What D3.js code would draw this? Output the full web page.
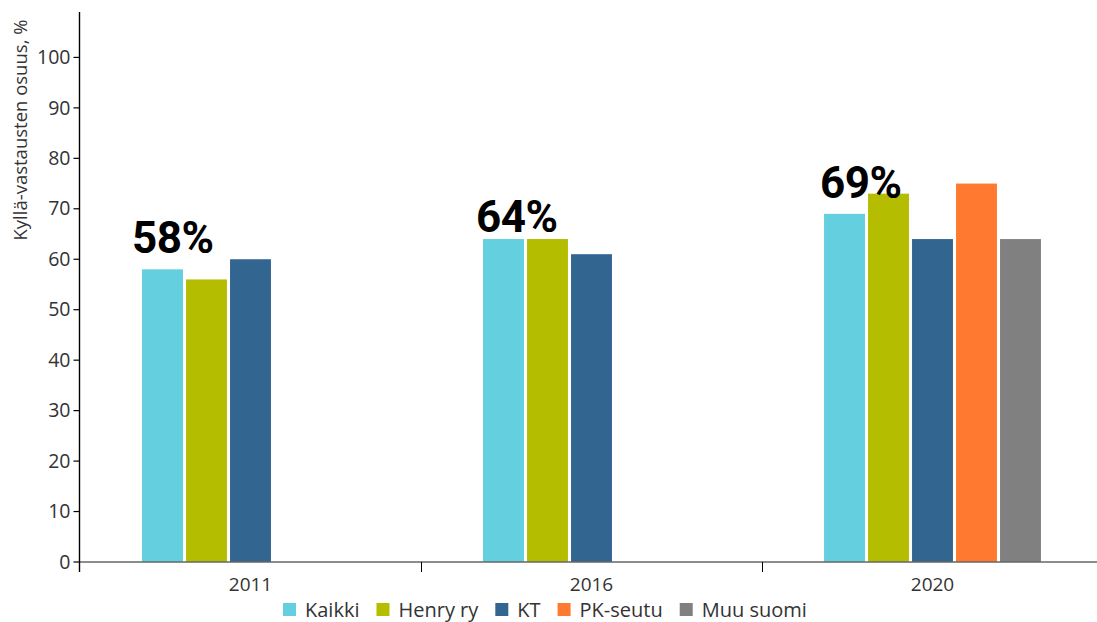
<!DOCTYPE html>
<html>
<head>
<meta charset="utf-8">
<script src="https://cdn.jsdelivr.net/npm/d3@7"></script>
<style>
  html, body { margin: 0; padding: 0; background: #fff; }
  svg { display: block; }
</style>
</head>
<body>
<svg id="chart" width="1097" height="622"></svg>
<script>
// ---- data ----
const years = ["2011", "2016", "2020"];
const seriesNames = ["Kaikki", "Henry ry", "KT", "PK-seutu", "Muu suomi"];
const seriesColors = ["#63cfdf", "#b4bd00", "#336591", "#ff7a30", "#808080"];
const kaikki   = [58, 64, 69];
const henry    = [56, 64, 73];
const kt       = [60, 61, 64];
const pkSeutu  = [null, null, 75];
const muuSuomi = [null, null, 64];
const highlightLabels = ["58%", "64%", "69%"];
const yTicks = [0, 10, 20, 30, 40, 50, 60, 70, 80, 90, 100];
const yTitle = "Kyllä-vastausten osuus, %";

const seriesValues = [kaikki, henry, kt, pkSeutu, muuSuomi];

// ---- layout ----
const svg = d3.select("#chart");
const x0 = d3.scaleBand().domain(years).range([80, 1103]).paddingInner(0).paddingOuter(0);
const y = d3.scaleLinear().domain([0, 109]).range([562, 12]);
const slotWidth = 44;
const x1 = d3.scaleBand().domain(seriesNames)
  .range([-slotWidth * 2.5, slotWidth * 2.5]).paddingInner(0.07).paddingOuter(0.035);

const textColor = "#333";
const tickFont = "'Open Sans', 'Noto Sans', sans-serif";

// bars
const groups = svg.append("g").selectAll("g")
  .data(years).join("g")
  .attr("transform", d => `translate(${x0(d) + x0.bandwidth() / 2},0)`);

groups.selectAll("rect")
  .data((yr, gi) => seriesNames.map((s, si) => ({ s, si, v: seriesValues[si][gi] })).filter(d => d.v != null))
  .join("rect")
  .attr("x", d => x1(d.s))
  .attr("width", x1.bandwidth())
  .attr("y", d => y(d.v))
  .attr("height", d => y(0) - y(d.v))
  .attr("fill", d => seriesColors[d.si]);

// big labels
const labelNudge = [0, 9, 0];
const labelDx = [-10, -7, -4];
groups.append("text")
  .attr("x", (d, i) => x1("Kaikki") + labelDx[i])
  .attr("y", (d, i) => y(kaikki[i]) - 16 + labelNudge[i])
  .attr("font-family", "Roboto, 'DejaVu Sans', sans-serif")
  .attr("font-weight", "bold")
  .attr("font-size", 44)
  .attr("letter-spacing", "-0.5")
  .attr("fill", "#000")
  .text((d, i) => highlightLabels[i]);

// x axis
const xAxisG = svg.append("g");
xAxisG.append("line")
  .attr("x1", 79).attr("x2", 1097).attr("y1", y(0)).attr("y2", y(0))
  .attr("stroke", "#666").attr("stroke-width", 1.3);
xAxisG.selectAll("line.sep")
  .data(years.slice(1)).join("line")
  .attr("class", "sep")
  .attr("x1", d => x0(d) + 0.5).attr("x2", d => x0(d) + 0.5)
  .attr("y1", y(0)).attr("y2", y(0) + 10)
  .attr("stroke", "#000").attr("stroke-width", 1);
xAxisG.selectAll("text")
  .data(years).join("text")
  .attr("x", d => x0(d) + x0.bandwidth() / 2)
  .attr("y", y(0) + 29)
  .attr("text-anchor", "middle")
  .attr("font-family", tickFont)
  .attr("font-size", 19)
  .attr("fill", textColor)
  .text(d => d);

// y axis
const yAxisG = svg.append("g").attr("transform", "translate(79.5,0)");
yAxisG.append("line")
  .attr("x1", 0).attr("x2", 0).attr("y1", 12).attr("y2", y(0) + 10)
  .attr("stroke", "#000").attr("stroke-width", 1.4);
const yt = yAxisG.selectAll("g.tick").data(yTicks).join("g")
  .attr("class", "tick")
  .attr("transform", d => `translate(0,${y(d)})`);
yt.append("line").attr("x1", -6).attr("x2", 0).attr("stroke", "#000").attr("stroke-width", 1.2);
yt.append("text")
  .attr("x", -9).attr("dy", "0.34em")
  .attr("text-anchor", "end")
  .attr("font-family", tickFont)
  .attr("font-size", 19.5)
  .attr("fill", textColor)
  .text(d => d);

// y title
svg.append("text")
  .attr("transform", "translate(27,130) rotate(-90)")
  .attr("text-anchor", "middle")
  .attr("font-family", tickFont)
  .attr("font-size", 18.5)
  .attr("fill", textColor)
  .text(yTitle);

// legend
const legend = svg.append("g").attr("transform", "translate(283,603)");
let lx = 0;
seriesNames.forEach((name, i) => {
  const g = legend.append("g").attr("transform", `translate(${lx},0)`);
  g.append("rect").attr("width", 13).attr("height", 13).attr("fill", seriesColors[i]);
  const t = g.append("text")
    .attr("x", 22).attr("y", 14)
    .attr("font-family", tickFont)
    .attr("font-size", 20)
    .attr("fill", textColor)
    .text(name);
  const w = t.node().getComputedTextLength();
  lx += 22 + w + 17;
});
</script>
</body>
</html>
